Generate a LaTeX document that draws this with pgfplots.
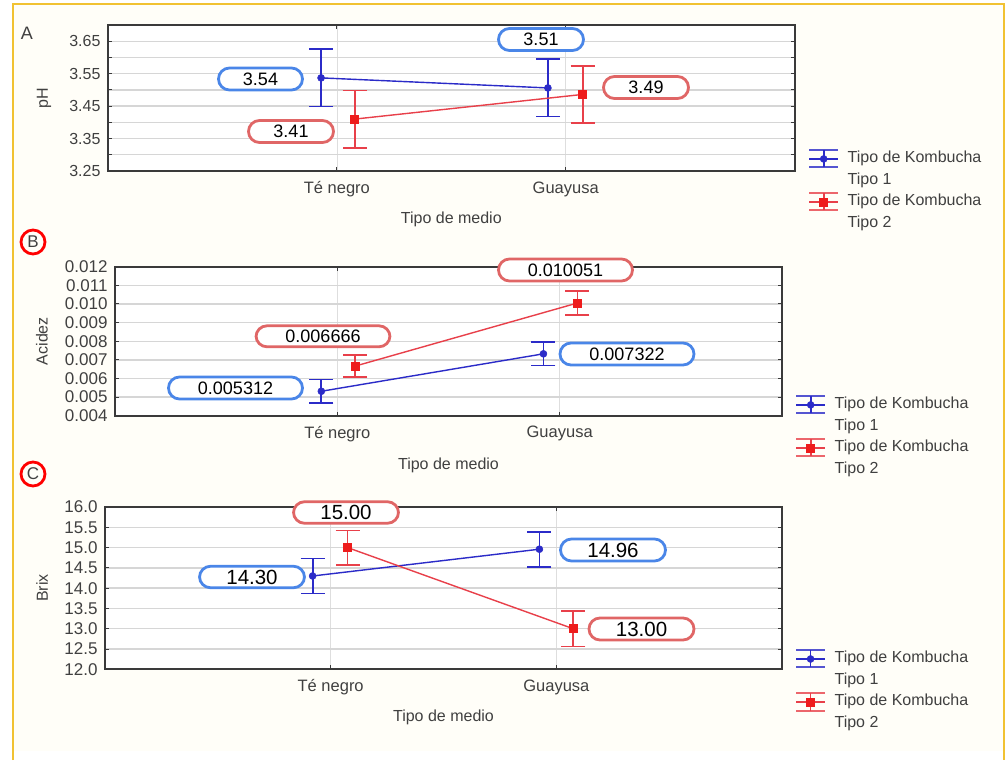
\documentclass[border=0pt]{standalone}
\usepackage{pgfplots}
\pgfplotsset{compat=1.18}
\usepackage{pgfplotstable}
\usepackage{fontspec}
\setmainfont{Liberation Sans}

\definecolor{axisgray}{HTML}{3A3A3A}
\definecolor{gridgray}{HTML}{D6D6D6}
\definecolor{ticktext}{HTML}{404040}
\definecolor{serblue}{HTML}{2B2BC8}
\definecolor{serred}{HTML}{E8404A}
\definecolor{markred}{HTML}{EE1C1C}
\definecolor{callblue}{HTML}{4A86E8}
\definecolor{callred}{HTML}{E06666}
\definecolor{frameyellow}{HTML}{F1C232}
\definecolor{bgcream}{HTML}{FFFEF8}

% Panel A: pH
\pgfplotstableread{
x     y      e
0.931 3.537  0.088
1.922 3.506  0.088
}\Ablue
\pgfplotstableread{
x     y      e
1.078 3.410  0.088
2.074 3.486  0.088
}\Ared
% Panel B: Acidez
\pgfplotstableread{
x     y         e
0.928 0.005312  0.00063
1.927 0.007322  0.00063
}\Bblue
\pgfplotstableread{
x     y         e
1.081 0.006666  0.00060
2.080 0.010051  0.00064
}\Bred
% Panel C: Brix
\pgfplotstableread{
x     y      e
0.920 14.30  0.43
1.925 14.96  0.43
}\Cblue
\pgfplotstableread{
x     y      e
1.075 15.00  0.42
2.075 13.00  0.44
}\Cred

\pgfplotsset{
  panel/.style={
    scale only axis, anchor=north west,
    xmin=0, xmax=3, xtick={1,2}, xticklabels={Té negro,Guayusa},
    axis line style={draw=axisgray, line width=1.8bp},
    tick style={draw=axisgray, line width=1bp},
    major tick length=4bp, minor tick length=4bp,
    xmajorgrids, ymajorgrids, yminorgrids,
    y grid style={draw=gridgray, line width=1.4bp},
    x grid style={draw=gridgray!80, line width=0.7bp},
    /pgf/number format/assume math mode=true,
    scaled y ticks=false,
    tick label style={text=ticktext},
    xticklabel style={font=\fontsize{16.5bp}{18bp}\selectfont, yshift=-7bp},
    yticklabel style={xshift=-4bp},
    label style={font=\fontsize{16bp}{18bp}\selectfont, text=ticktext},
    legend cell align=left,
    legend style={draw=none, fill=none, inner sep=0pt, anchor=north west,
      font=\fontsize{16bp}{18bp}\selectfont, text=ticktext,
      row sep=0bp, column sep=6bp, cells={anchor=west},
      nodes={inner sep=2.5bp, text height=12bp, text depth=4.5bp}},
    legend image code/.code={
      \draw[line width=2bp, mark=none, opacity=0.8] (0bp,-8.5bp) -- (29bp,-8.5bp);
      \draw[line width=2bp, mark=none, opacity=0.8] (0bp,8.5bp) -- (29bp,8.5bp);
      \draw[line width=1.6bp, mark=none] (14.5bp,-8.5bp) -- (14.5bp,8.5bp);
      \draw[line width=1.6bp, mark repeat=2, mark phase=2]
        plot coordinates {(0bp,0bp) (14.5bp,0bp) (29bp,0bp)};
    },
  },
  kblue/.style={color=serblue, line width=1.4bp, mark=*, mark size=3.5bp,
    mark options={fill=serblue, draw=serblue, line width=0.5bp},
    error bars/y dir=both, error bars/y explicit,
    error bars/error bar style={line width=1.8bp, color=serblue},
    error bars/error mark options={rotate=90, line width=1.8bp, color=serblue, mark size=12bp}},
  kred/.style={color=serred, line width=1.4bp, mark=square*, mark size=4bp,
    mark options={fill=markred, draw=markred, line width=0.5bp},
    error bars/y dir=both, error bars/y explicit,
    error bars/error bar style={line width=1.8bp, color=serred},
    error bars/error mark options={rotate=90, line width=1.8bp, color=serred, mark size=12bp}},
}

\tikzset{pill/.style args={#1/#2/#3}{draw=#1, line width=2.8bp, rounded corners=11bp,
    minimum width=#2, minimum height=#3, inner sep=0pt, fill=white, text=black}}

\begin{document}
\begin{tikzpicture}
\begin{scope}[x=1bp,y=-1bp]
\useasboundingbox (0,0) rectangle (1007,751);
\fill[bgcream] (13,4) rectangle (1004,751);
\end{scope}

% ---------- Panel A ----------
\begin{axis}[panel, at={(108bp,-25bp)}, width=686.6bp, height=146bp,
  ymin=3.25, ymax=3.70,
  ytick={3.25,3.35,3.45,3.55,3.65},
  minor ytick={3.30,3.40,3.50,3.60,3.70},
  yticklabel style={font=\fontsize{16bp}{18bp}\selectfont,
    /pgf/number format/.cd, fixed, precision=2, zerofill},
  xlabel={Tipo de medio}, ylabel={pH},
  xlabel style={at={(axis description cs:0.5,-0.329)}, anchor=center},
  ylabel style={at={(axis description cs:-0.093,0.5)}, anchor=center},
  legend style={at={(axis description cs:1.0195,0.1575)}},
  axis background/.style={fill=white}]
\addplot[kblue] table[x=x,y=y,y error=e] {\Ablue};
\addlegendentry{Tipo de Kombucha}
\addlegendimage{empty legend}
\addlegendentry{Tipo 1}
\addplot[kred] table[x=x,y=y,y error=e] {\Ared};
\addlegendentry{Tipo de Kombucha}
\addlegendimage{empty legend}
\addlegendentry{Tipo 2}
\end{axis}

% ---------- Panel B ----------
\begin{axis}[panel, at={(115bp,-266.7bp)}, width=667bp, height=149bp,
  ymin=0.004, ymax=0.012,
  ytick={0.004,0.005,0.006,0.007,0.008,0.009,0.010,0.011,0.012},
  yticklabel style={font=\fontsize{17bp}{19bp}\selectfont,
    /pgf/number format/.cd, fixed, precision=3, zerofill},
  xlabel={Tipo de medio}, ylabel={Acidez},
  xlabel style={at={(axis description cs:0.5,-0.331)}, anchor=center},
  ylabel style={at={(axis description cs:-0.1094,0.5)}, anchor=center},
  legend style={at={(axis description cs:1.0195,0.146)}},
  axis background/.style={fill=white}]
\addplot[kblue] table[x=x,y=y,y error=e] {\Bblue};
\addlegendentry{Tipo de Kombucha}
\addlegendimage{empty legend}
\addlegendentry{Tipo 1}
\addplot[kred] table[x=x,y=y,y error=e] {\Bred};
\addlegendentry{Tipo de Kombucha}
\addlegendimage{empty legend}
\addlegendentry{Tipo 2}
\end{axis}

% ---------- Panel C ----------
\begin{axis}[panel, at={(105bp,-507bp)}, width=677bp, height=162.3bp,
  ymin=12, ymax=16,
  ytick={12,12.5,13,13.5,14,14.5,15,15.5,16},
  yticklabel style={font=\fontsize{17bp}{19bp}\selectfont,
    /pgf/number format/.cd, fixed, precision=1, zerofill},
  xlabel={Tipo de medio}, ylabel={Brix},
  xlabel style={at={(axis description cs:0.5,-0.294)}, anchor=center},
  ylabel style={at={(axis description cs:-0.093,0.5)}, anchor=center},
  legend style={at={(axis description cs:1.019,0.131)}},
  axis background/.style={fill=white}]
\addplot[kblue] table[x=x,y=y,y error=e] {\Cblue};
\addlegendentry{Tipo de Kombucha}
\addlegendimage{empty legend}
\addlegendentry{Tipo 1}
\addplot[kred] table[x=x,y=y,y error=e] {\Cred};
\addlegendentry{Tipo de Kombucha}
\addlegendimage{empty legend}
\addlegendentry{Tipo 2}
\end{axis}

\begin{scope}[x=1bp,y=-1bp]
% callouts A
\begin{scope}[font=\fontsize{18bp}{20bp}\selectfont]
\node[pill=callblue/84bp/22bp] at (260.5,79) {3.54};
\node[pill=callred/85bp/22bp] at (291,131.5) {3.41};
\node[pill=callblue/85bp/22bp] at (541,39.5) {3.51};
\node[pill=callred/85bp/22bp] at (646,87.5) {3.49};
% callouts B
\node[pill=callred/134bp/21bp] at (323,336.3) {0.006666};
\node[pill=callblue/134bp/22bp] at (235.5,388) {0.005312};
\node[pill=callred/134bp/22bp] at (565.5,270) {0.010051};
\node[pill=callblue/134bp/22bp] at (627,354) {0.007322};
\end{scope}
% callouts C
\begin{scope}[font=\fontsize{20.5bp}{22bp}\selectfont]
\node[pill=callred/105bp/21.5bp] at (346,512.5) {15.00};
\node[pill=callblue/105bp/21.5bp] at (252,577) {14.30};
\node[pill=callblue/105bp/22bp] at (613,550) {14.96};
\node[pill=callred/105bp/22bp] at (641.5,629) {13.00};
\end{scope}
% panel letters
\node[text=ticktext, font=\fontsize{18bp}{20bp}\selectfont] at (27,33) {A};
\draw[red, line width=2.8bp] (33,242) circle[radius=12bp];
\node[text=ticktext, font=\fontsize{17bp}{19bp}\selectfont] at (33,242) {B};
\draw[red, line width=2.8bp] (33,474) circle[radius=12bp];
\node[text=ticktext, font=\fontsize{17bp}{19bp}\selectfont] at (33,474) {C};
% outer frame
\draw[frameyellow, line width=2.2bp] (13,760) -- (13,4) -- (1004,4) -- (1004,760);
\end{scope}
\end{tikzpicture}
\end{document}
